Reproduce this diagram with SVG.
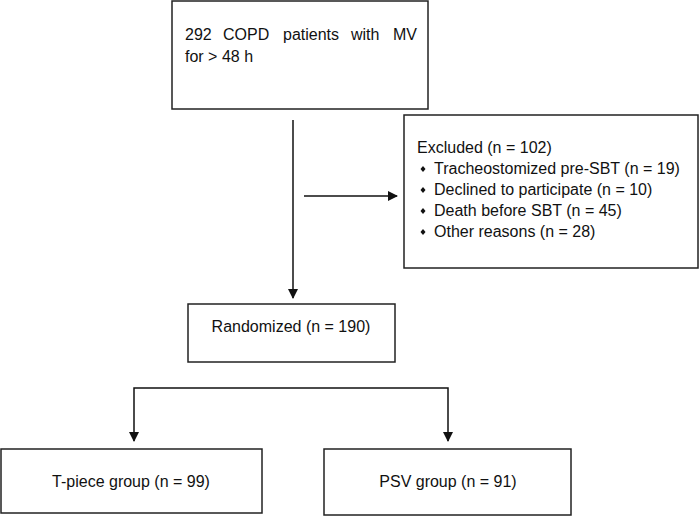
<svg xmlns="http://www.w3.org/2000/svg" width="700" height="517" viewBox="0 0 700 517">
<style>
.box{fill:#fff;stroke:#222;stroke-width:1.5}
.t{font-family:"Liberation Sans",Arial,sans-serif;font-size:16px;fill:#111}
.c{text-anchor:middle}
.ln{stroke:#111;stroke-width:1.5;fill:none}
.bul{fill:#111}
</style>
<defs>
<marker id="ah" markerWidth="10" markerHeight="10" refX="9" refY="5" orient="auto" markerUnits="userSpaceOnUse">
<path d="M0,0 L10,5 L0,10 Z" fill="#111"/>
</marker>
</defs>
<rect width="700" height="517" fill="#fff"/>
<g id="connectors">
<line class="ln" x1="293" y1="120" x2="293" y2="298" marker-end="url(#ah)"/>
<line class="ln" x1="304" y1="196" x2="397" y2="196" marker-end="url(#ah)"/>
<polyline class="ln" points="291,388 134,388 134,441" marker-end="url(#ah)"/>
<polyline class="ln" points="291,388 448,388 448,441" marker-end="url(#ah)"/>
</g>
<g id="node-patients">
<rect class="box" x="172" y="1" width="256" height="108"/>
<text class="t" y="40"><tspan x="185">292</tspan><tspan x="223">COPD</tspan><tspan x="283">patients</tspan><tspan x="351">with</tspan><tspan x="393">MV</tspan></text>
<text class="t" x="185" y="62">for &gt; 48 h</text>
</g>
<g id="node-excluded">
<rect class="box" x="404" y="115" width="294" height="153"/>
<text class="t" x="417" y="153">Excluded (n = 102)</text>
<path class="bul" d="M423,166 l2.5,3 l-2.5,3 l-2.5,-3 Z"/>
<text class="t" x="434" y="174">Tracheostomized pre-SBT (n = 19)</text>
<path class="bul" d="M423,187 l2.5,3 l-2.5,3 l-2.5,-3 Z"/>
<text class="t" x="434" y="195">Declined to participate (n = 10)</text>
<path class="bul" d="M423,208 l2.5,3 l-2.5,3 l-2.5,-3 Z"/>
<text class="t" x="434" y="216">Death before SBT (n = 45)</text>
<path class="bul" d="M423,229 l2.5,3 l-2.5,3 l-2.5,-3 Z"/>
<text class="t" x="434" y="237">Other reasons (n = 28)</text>
</g>
<g id="node-randomized">
<rect class="box" x="188" y="304" width="207" height="58"/>
<text class="t c" x="291" y="332">Randomized (n = 190)</text>
</g>
<g id="node-tpiece">
<rect class="box" x="1" y="449" width="261" height="64"/>
<text class="t c" x="131" y="487">T-piece group (n = 99)</text>
</g>
<g id="node-psv">
<rect class="box" x="324" y="449" width="247" height="66"/>
<text class="t c" x="448" y="487">PSV group (n = 91)</text>
</g>
</svg>
